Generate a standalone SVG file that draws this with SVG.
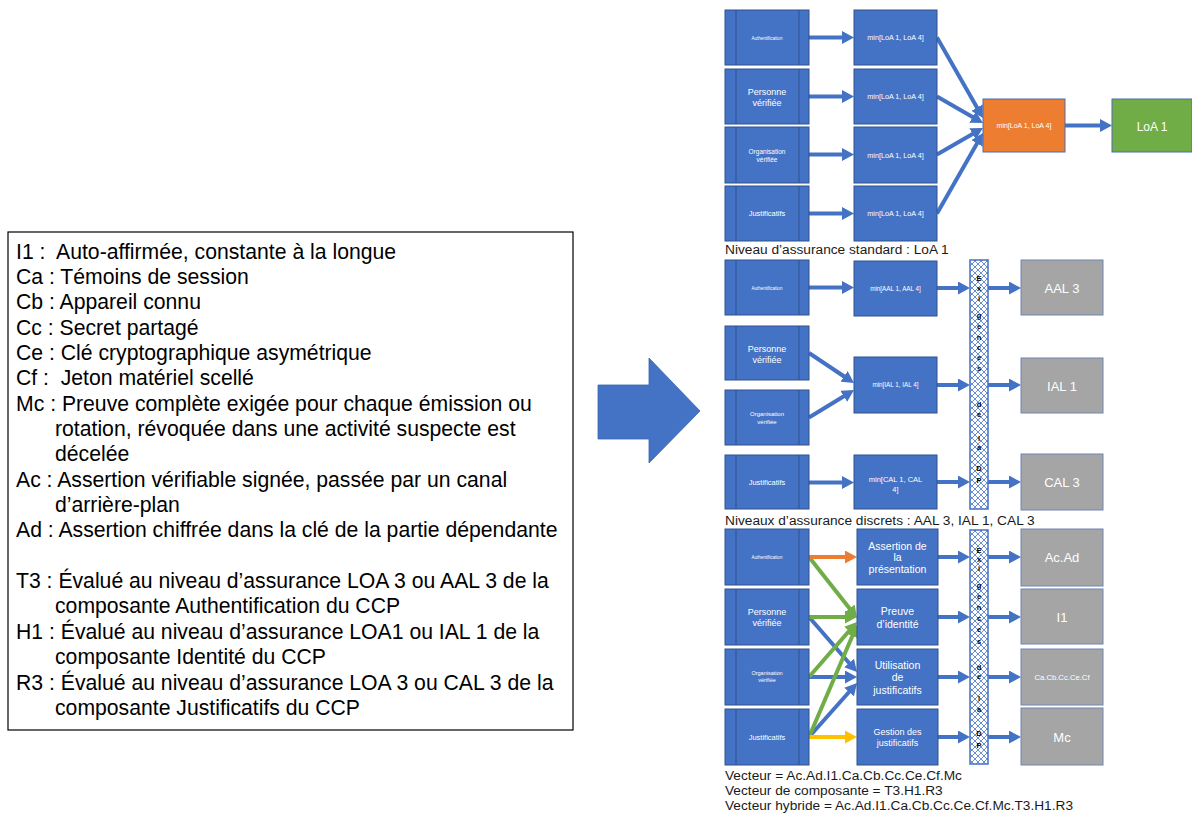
<svg xmlns="http://www.w3.org/2000/svg" width="1192" height="817" viewBox="0 0 1192 817">
  <defs>
    <style>
      text { font-family: "Liberation Sans", Arial, sans-serif; }
      .box { fill: #4472C4; stroke: #2F528F; stroke-width: 1; }
      .edge { stroke: #2F528F; stroke-width: 1; }
      .gray { fill: #A5A5A5; stroke: #6E86B3; stroke-width: 1; }
      .w { fill: #FFFFFF; text-anchor: middle; }
      .legend { font-size: 21.2px; fill: #000000; }
      .cap { font-size: 13.7px; fill: #1a1a1a; }
      .bar { fill: url(#hatch); stroke: #4472C4; stroke-width: 1.5; }
      .vl { font-size: 7.5px; font-weight: bold; fill: #000000; text-anchor: middle; }
      .c { fill: none; stroke-width: 4; }
      .cb { stroke: #4472C4; marker-end: url(#ab); }
      .cg { stroke: #70AD47; marker-end: url(#ag); }
      .co { stroke: #ED7D31; marker-end: url(#ao); }
      .cy { stroke: #FFC000; marker-end: url(#ay); }
    </style>
    <pattern id="hatch" patternUnits="userSpaceOnUse" width="6" height="6">
      <rect width="6" height="6" fill="#FFFFFF"/>
      <path d="M0,0 L6,6 M6,0 L0,6" stroke="#4472C4" stroke-width="0.8"/>
    </pattern>
    <marker id="ab" markerUnits="userSpaceOnUse" markerWidth="12" markerHeight="13" refX="2" refY="6.5" orient="auto">
      <path d="M0,0 L12,6.5 L0,13 z" fill="#4472C4"/>
    </marker>
    <marker id="ag" markerUnits="userSpaceOnUse" markerWidth="12" markerHeight="13" refX="2" refY="6.5" orient="auto">
      <path d="M0,0 L12,6.5 L0,13 z" fill="#70AD47"/>
    </marker>
    <marker id="ao" markerUnits="userSpaceOnUse" markerWidth="12" markerHeight="13" refX="2" refY="6.5" orient="auto">
      <path d="M0,0 L12,6.5 L0,13 z" fill="#ED7D31"/>
    </marker>
    <marker id="ay" markerUnits="userSpaceOnUse" markerWidth="12" markerHeight="13" refX="2" refY="6.5" orient="auto">
      <path d="M0,0 L12,6.5 L0,13 z" fill="#FFC000"/>
    </marker>
  </defs>

  <rect width="1192" height="817" fill="#FFFFFF"/>

  <!-- Legend box -->
  <g id="legend">
    <rect x="8" y="232" width="565" height="498" fill="#FFFFFF" stroke="#000000" stroke-width="1.2"/>
    <text class="legend" x="16" y="258.5">I1 :&#160; Auto-affirmée, constante à la longue</text>
    <text class="legend" x="16" y="283.9">Ca : Témoins de session</text>
    <text class="legend" x="16" y="309.2">Cb : Appareil connu</text>
    <text class="legend" x="16" y="334.6">Cc : Secret partagé</text>
    <text class="legend" x="16" y="359.9">Ce : Clé cryptographique asymétrique</text>
    <text class="legend" x="16" y="385.3">Cf :&#160; Jeton matériel scellé</text>
    <text class="legend" x="16" y="410.6">Mc : Preuve complète exigée pour chaque émission ou</text>
    <text class="legend" x="55" y="436.0">rotation, révoquée dans une activité suspecte est</text>
    <text class="legend" x="55" y="461.3">décelée</text>
    <text class="legend" x="16" y="486.7">Ac : Assertion vérifiable signée, passée par un canal</text>
    <text class="legend" x="55" y="512.0">d’arrière-plan</text>
    <text class="legend" x="16" y="537.4">Ad : Assertion chiffrée dans la clé de la partie dépendante</text>
    <text class="legend" x="16" y="588.1">T3 : Évalué au niveau d’assurance LOA 3 ou AAL 3 de la</text>
    <text class="legend" x="55" y="613.4">composante Authentification du CCP</text>
    <text class="legend" x="16" y="638.8">H1 : Évalué au niveau d’assurance LOA1 ou IAL 1 de la</text>
    <text class="legend" x="55" y="664.1">composante Identité du CCP</text>
    <text class="legend" x="16" y="689.5">R3 : Évalué au niveau d’assurance LOA 3 ou CAL 3 de la</text>
    <text class="legend" x="55" y="714.8">composante Justificatifs du CCP</text>
  </g>

  <!-- Block arrow -->
  <g id="big-arrow">
    <path d="M598,385 L649,385 L649,358 L700,411 L649,463 L649,439 L598,439 z" fill="#4472C4" stroke="#3A64B0" stroke-width="0.8"/>
  </g>

  <!-- Connectors -->
  <g id="connectors">
    <!-- standard level -->
    <line class="c cb" x1="809" y1="37.5" x2="844" y2="37.5"/>
    <line class="c cb" x1="809" y1="96.5" x2="844" y2="96.5"/>
    <line class="c cb" x1="809" y1="154.5" x2="844" y2="154.5"/>
    <line class="c cb" x1="809" y1="213.5" x2="844" y2="213.5"/>
    <line class="c cb" x1="937" y1="37.5" x2="978" y2="109.3"/>
    <line class="c cb" x1="937" y1="96.5" x2="974.3" y2="118"/>
    <line class="c cb" x1="937" y1="154.5" x2="974.3" y2="133"/>
    <line class="c cb" x1="937" y1="213.5" x2="978" y2="141.7"/>
    <line class="c cb" x1="1065" y1="125.5" x2="1102" y2="125.5"/>
    <!-- discrete levels -->
    <line class="c cb" x1="809" y1="287.5" x2="844" y2="287.5"/>
    <line class="c cb" x1="809" y1="353" x2="845.7" y2="377.5"/>
    <line class="c cb" x1="809" y1="417.5" x2="845.5" y2="395.2"/>
    <line class="c cb" x1="809" y1="482.5" x2="844" y2="482.5"/>
    <line class="c cb" x1="937" y1="288" x2="960" y2="288"/>
    <line class="c cb" x1="937" y1="385" x2="960" y2="385"/>
    <line class="c cb" x1="937" y1="482" x2="960" y2="482"/>
    <line class="c cb" x1="988" y1="288" x2="1011" y2="288"/>
    <line class="c cb" x1="988" y1="385" x2="1011" y2="385"/>
    <line class="c cb" x1="988" y1="482" x2="1011" y2="482"/>
    <!-- hybrid vector -->
    <line class="c cb" x1="809" y1="617" x2="850.4" y2="664.5"/>
    <line class="c cb" x1="809" y1="677" x2="847" y2="677"/>
    <line class="c cb" x1="809" y1="737" x2="850.4" y2="690.5"/>
    <line class="c cg" x1="809" y1="557" x2="850.8" y2="610.1"/>
    <line class="c cg" x1="809" y1="617" x2="847" y2="617"/>
    <line class="c cg" x1="809" y1="677" x2="850.4" y2="629.5"/>
    <line class="c cg" x1="809" y1="737" x2="853.1" y2="634.2"/>
    <line class="c co" x1="809" y1="557" x2="847" y2="557"/>
    <line class="c cy" x1="809" y1="737" x2="847" y2="737"/>
    <line class="c cb" x1="938" y1="557" x2="960" y2="557"/>
    <line class="c cb" x1="938" y1="617" x2="960" y2="617"/>
    <line class="c cb" x1="938" y1="677" x2="960" y2="677"/>
    <line class="c cb" x1="938" y1="737" x2="960" y2="737"/>
    <line class="c cb" x1="988" y1="557" x2="1011" y2="557"/>
    <line class="c cb" x1="988" y1="617" x2="1011" y2="617"/>
    <line class="c cb" x1="988" y1="677" x2="1011" y2="677"/>
    <line class="c cb" x1="988" y1="737" x2="1011" y2="737"/>
  </g>

  <!-- Standard level: inputs -->
  <g id="s-auth">
    <rect class="box" x="725" y="10" width="84" height="55"/>
    <line class="edge" x1="736" y1="10" x2="736" y2="65"/><line class="edge" x1="799" y1="10" x2="799" y2="65"/>
    <text class="w" x="767" y="39.5" font-size="4.5">Authentification</text>
  </g>
  <g id="s-personne">
    <rect class="box" x="725" y="69" width="84" height="55"/>
    <line class="edge" x1="736" y1="69" x2="736" y2="124"/><line class="edge" x1="799" y1="69" x2="799" y2="124"/>
    <text class="w" x="767" y="95" font-size="9">Personne</text>
    <text class="w" x="767" y="106" font-size="9">vérifiée</text>
  </g>
  <g id="s-organisation">
    <rect class="box" x="725" y="127" width="84" height="56"/>
    <line class="edge" x1="736" y1="127" x2="736" y2="183"/><line class="edge" x1="799" y1="127" x2="799" y2="183"/>
    <text class="w" x="767" y="154" font-size="6.5">Organisation</text>
    <text class="w" x="767" y="161.5" font-size="6.5">vérifiée</text>
  </g>
  <g id="s-justificatifs">
    <rect class="box" x="725" y="186" width="84" height="55"/>
    <line class="edge" x1="736" y1="186" x2="736" y2="241"/><line class="edge" x1="799" y1="186" x2="799" y2="241"/>
    <text class="w" x="767" y="216" font-size="7.5">Justificatifs</text>
  </g>
  <!-- Standard level: minimum per component -->
  <g id="s-min-1">
    <rect class="box" x="854" y="10" width="83" height="55"/>
    <text class="w" x="895.5" y="40" font-size="7.2">min[LoA 1, LoA 4]</text>
  </g>
  <g id="s-min-2">
    <rect class="box" x="854" y="69" width="83" height="55"/>
    <text class="w" x="895.5" y="99" font-size="7.2">min[LoA 1, LoA 4]</text>
  </g>
  <g id="s-min-3">
    <rect class="box" x="854" y="127" width="83" height="56"/>
    <text class="w" x="895.5" y="157.5" font-size="7.2">min[LoA 1, LoA 4]</text>
  </g>
  <g id="s-min-4">
    <rect class="box" x="854" y="186" width="83" height="55"/>
    <text class="w" x="895.5" y="216" font-size="7.2">min[LoA 1, LoA 4]</text>
  </g>
  <g id="s-min-all">
    <rect x="983" y="99" width="82" height="53" fill="#ED7D31" stroke="#4A6CB0" stroke-width="1"/>
    <text class="w" x="1024" y="128" font-size="7">min[LoA 1, LoA 4]</text>
  </g>
  <g id="s-result">
    <rect x="1112" y="99" width="80" height="53" fill="#70AD47" stroke="#4A6CB0" stroke-width="1"/>
    <text class="w" x="1152" y="130.5" font-size="12">LoA 1</text>
  </g>
  <text class="cap" x="725" y="254" font-size="12.8">Niveau d’assurance standard : LoA 1</text>

  <!-- Discrete levels: inputs -->
  <g id="d-auth">
    <rect class="box" x="725" y="260" width="84" height="55"/>
    <line class="edge" x1="736" y1="260" x2="736" y2="315"/><line class="edge" x1="799" y1="260" x2="799" y2="315"/>
    <text class="w" x="767" y="289.5" font-size="4.5">Authentification</text>
  </g>
  <g id="d-personne">
    <rect class="box" x="725" y="326" width="84" height="54"/>
    <line class="edge" x1="736" y1="326" x2="736" y2="380"/><line class="edge" x1="799" y1="326" x2="799" y2="380"/>
    <text class="w" x="767" y="351.5" font-size="9">Personne</text>
    <text class="w" x="767" y="362.5" font-size="9">vérifiée</text>
  </g>
  <g id="d-organisation">
    <rect class="box" x="725" y="390" width="84" height="55"/>
    <line class="edge" x1="736" y1="390" x2="736" y2="445"/><line class="edge" x1="799" y1="390" x2="799" y2="445"/>
    <text class="w" x="767" y="416" font-size="6">Organisation</text>
    <text class="w" x="767" y="423.5" font-size="6">vérifiée</text>
  </g>
  <g id="d-justificatifs">
    <rect class="box" x="725" y="455" width="84" height="54"/>
    <line class="edge" x1="736" y1="455" x2="736" y2="509"/><line class="edge" x1="799" y1="455" x2="799" y2="509"/>
    <text class="w" x="767" y="485" font-size="7.5">Justificatifs</text>
  </g>
  <g id="d-min-aal">
    <rect class="box" x="854" y="261" width="83" height="55"/>
    <text class="w" x="895.5" y="290.5" font-size="6.3">min[AAL 1, AAL 4]</text>
  </g>
  <g id="d-min-ial">
    <rect class="box" x="854" y="357" width="83" height="56"/>
    <text class="w" x="895.5" y="387" font-size="6.3">min[IAL 1, IAL 4]</text>
  </g>
  <g id="d-min-cal">
    <rect class="box" x="854" y="455" width="83" height="54"/>
    <text class="w" x="895.5" y="481.5" font-size="7.5">min[CAL 1, CAL</text>
    <text class="w" x="895.5" y="491.5" font-size="7.5">4]</text>
  </g>
  <g id="d-dp">
    <rect class="bar" x="970" y="260" width="18" height="249"/>
    <text class="vl" x="979"><tspan x="979" y="281">E</tspan><tspan x="979" y="291">x</tspan><tspan x="979" y="301">i</tspan><tspan x="979" y="318">g</tspan><tspan x="979" y="329">e</tspan><tspan x="979" y="340">n</tspan><tspan x="979" y="350">c</tspan><tspan x="979" y="360">e</tspan><tspan x="979" y="371">s</tspan><tspan x="979" y="407">d</tspan><tspan x="979" y="417">e</tspan><tspan x="979" y="441">l</tspan><tspan x="979" y="450">a</tspan><tspan x="979" y="471">D</tspan><tspan x="979" y="483">P</tspan></text>
  </g>
  <g id="d-aal3">
    <rect class="gray" x="1021" y="260" width="82" height="55"/>
    <text class="w" x="1062" y="292.5" font-size="13">AAL 3</text>
  </g>
  <g id="d-ial1">
    <rect class="gray" x="1021" y="358" width="82" height="55"/>
    <text class="w" x="1062" y="390.5" font-size="13">IAL 1</text>
  </g>
  <g id="d-cal3">
    <rect class="gray" x="1021" y="454" width="82" height="56"/>
    <text class="w" x="1062" y="487" font-size="13">CAL 3</text>
  </g>
  <text class="cap" x="725" y="525">Niveaux d’assurance discrets : AAL 3, IAL 1, CAL 3</text>

  <!-- Hybrid vector: inputs -->
  <g id="h-auth">
    <rect class="box" x="725" y="529" width="84" height="56"/>
    <line class="edge" x1="736" y1="529" x2="736" y2="585"/><line class="edge" x1="799" y1="529" x2="799" y2="585"/>
    <text class="w" x="767" y="558.5" font-size="4.5">Authentification</text>
  </g>
  <g id="h-personne">
    <rect class="box" x="725" y="589" width="84" height="56"/>
    <line class="edge" x1="736" y1="589" x2="736" y2="645"/><line class="edge" x1="799" y1="589" x2="799" y2="645"/>
    <text class="w" x="767" y="615" font-size="9">Personne</text>
    <text class="w" x="767" y="626" font-size="9">vérifiée</text>
  </g>
  <g id="h-organisation">
    <rect class="box" x="725" y="649" width="84" height="56"/>
    <line class="edge" x1="736" y1="649" x2="736" y2="705"/><line class="edge" x1="799" y1="649" x2="799" y2="705"/>
    <text class="w" x="767" y="675" font-size="5.5">Organisation</text>
    <text class="w" x="767" y="682" font-size="5.5">vérifiée</text>
  </g>
  <g id="h-justificatifs">
    <rect class="box" x="725" y="709" width="84" height="56"/>
    <line class="edge" x1="736" y1="709" x2="736" y2="765"/><line class="edge" x1="799" y1="709" x2="799" y2="765"/>
    <text class="w" x="767" y="739.5" font-size="7.5">Justificatifs</text>
  </g>
  <g id="h-assertion">
    <rect class="box" x="857" y="529" width="81" height="56"/>
    <text class="w" x="897.5" y="549.5" font-size="10.5">Assertion de</text>
    <text class="w" x="897.5" y="561" font-size="10.5">la</text>
    <text class="w" x="897.5" y="572.5" font-size="10.5">présentation</text>
  </g>
  <g id="h-preuve">
    <rect class="box" x="857" y="589" width="81" height="56"/>
    <text class="w" x="897.5" y="614.5" font-size="10.5">Preuve</text>
    <text class="w" x="897.5" y="627.5" font-size="10.5">d’identité</text>
  </g>
  <g id="h-utilisation">
    <rect class="box" x="857" y="649" width="81" height="56"/>
    <text class="w" x="897.5" y="668.5" font-size="10.5">Utilisation</text>
    <text class="w" x="897.5" y="681" font-size="10.5">de</text>
    <text class="w" x="897.5" y="693.5" font-size="10.5">justificatifs</text>
  </g>
  <g id="h-gestion">
    <rect class="box" x="857" y="709" width="81" height="56"/>
    <text class="w" x="897.5" y="735" font-size="9">Gestion des</text>
    <text class="w" x="897.5" y="745.5" font-size="9">justificatifs</text>
  </g>
  <g id="h-dp">
    <rect class="bar" x="970" y="530" width="18" height="234"/>
    <text class="vl" x="979"><tspan x="979" y="553">E</tspan><tspan x="979" y="562">x</tspan><tspan x="979" y="571">i</tspan><tspan x="979" y="588">g</tspan><tspan x="979" y="599">e</tspan><tspan x="979" y="610">n</tspan><tspan x="979" y="621">c</tspan><tspan x="979" y="632">e</tspan><tspan x="979" y="644">s</tspan><tspan x="979" y="670">d</tspan><tspan x="979" y="679">e</tspan><tspan x="979" y="701">l</tspan><tspan x="979" y="712">a</tspan><tspan x="979" y="736">D</tspan><tspan x="979" y="748">P</tspan></text>
  </g>
  <g id="h-acad">
    <rect class="gray" x="1021" y="529" width="82" height="57"/>
    <text class="w" x="1062" y="562" font-size="13">Ac.Ad</text>
  </g>
  <g id="h-i1">
    <rect class="gray" x="1021" y="589" width="82" height="55"/>
    <text class="w" x="1062" y="621.5" font-size="13">I1</text>
  </g>
  <g id="h-cred">
    <rect class="gray" x="1021" y="649" width="82" height="56"/>
    <text class="w" x="1062" y="680" font-size="7.7">Ca.Cb.Cc.Ce.Cf</text>
  </g>
  <g id="h-mc">
    <rect class="gray" x="1021" y="708" width="82" height="57"/>
    <text class="w" x="1062" y="741.5" font-size="13">Mc</text>
  </g>
  <text class="cap" x="725" y="780">Vecteur = Ac.Ad.I1.Ca.Cb.Cc.Ce.Cf.Mc</text>
  <text class="cap" x="725" y="795">Vecteur de composante = T3.H1.R3</text>
  <text class="cap" x="725" y="810">Vecteur hybride = Ac.Ad.I1.Ca.Cb.Cc.Ce.Cf.Mc.T3.H1.R3</text>
</svg>
